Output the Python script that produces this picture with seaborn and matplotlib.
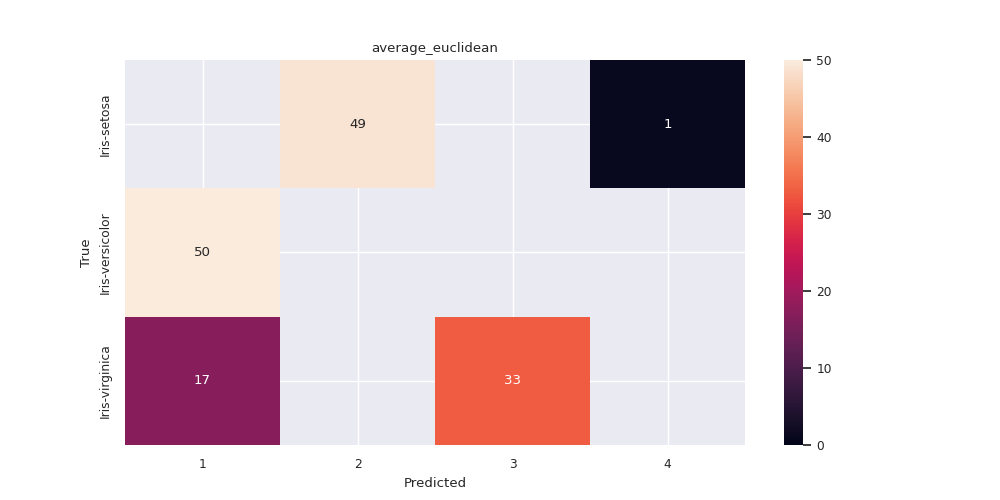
import numpy as np
import pandas as pd
import matplotlib
matplotlib.use("Agg")
import matplotlib.pyplot as plt
import seaborn as sns

true_labels = ["Iris-setosa", "Iris-versicolor", "Iris-virginica"]
pred_labels = ["1", "2", "3", "4"]
setosa = [0, 49, 0, 1]
versicolor = [50, 0, 0, 0]
virginica = [17, 0, 33, 0]

cm = pd.DataFrame([setosa, versicolor, virginica], index=true_labels, columns=pred_labels)

sns.set_theme(font_scale=0.8)
fig, ax = plt.subplots(figsize=(10, 5), dpi=100)
sns.heatmap(cm, annot=True, fmt="d", mask=(cm == 0), vmin=0, vmax=50, ax=ax)
ax.set_title("average_euclidean")
ax.set_xlabel("Predicted")
ax.set_ylabel("True")
fig.savefig("out.png")
